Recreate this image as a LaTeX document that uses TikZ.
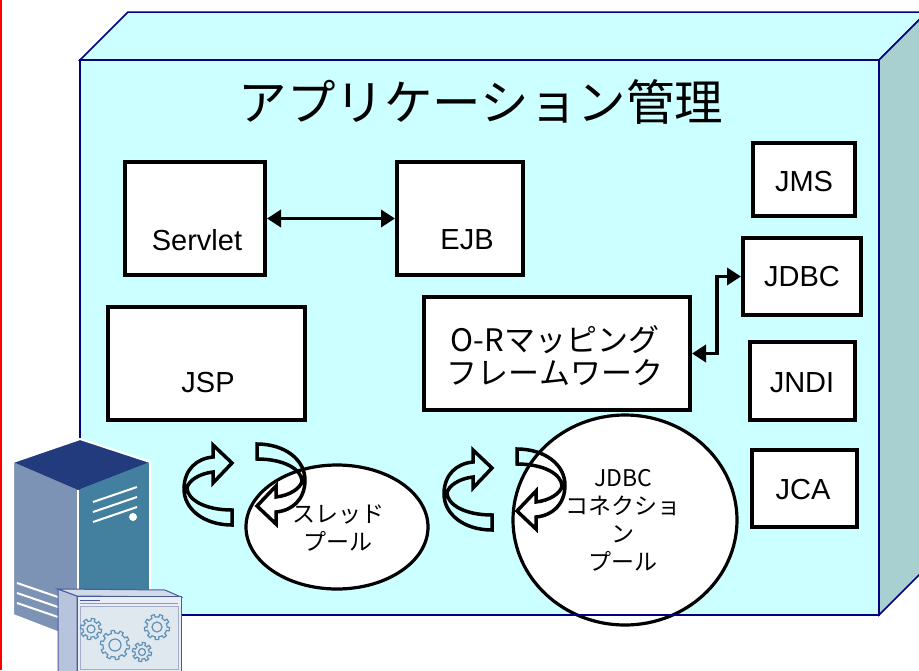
\documentclass[tikz,border=0pt]{standalone}
\usepackage{fontspec}
\setmainfont{Liberation Sans}
\newfontfamily\jp{Noto Sans CJK JP}
\usetikzlibrary{arrows.meta,shapes.geometric,calc}

\definecolor{facefill}{HTML}{CCFFFF}
\definecolor{sidefill}{HTML}{A8D0D0}
\definecolor{edgeblue}{HTML}{000080}
\definecolor{towertop}{HTML}{213B7C}
\definecolor{towerleft}{HTML}{7D93B5}
\definecolor{towerright}{HTML}{4380A0}
\definecolor{winedge}{HTML}{4A5A9A}
\definecolor{winside}{HTML}{B8C4DC}
\definecolor{wintop}{HTML}{D0DAE8}
\definecolor{winface}{HTML}{E8EEF4}
\definecolor{wincontent}{HTML}{DFE8EE}
\definecolor{gearcol}{HTML}{5F90B8}

\tikzset{
  compbox/.style={draw=black, line width=4pt, fill=white, rectangle, inner sep=0pt},
  pool/.style={draw=black, line width=3.2pt, fill=white, ellipse, inner sep=0pt},
  lbl/.style={font=\fontsize{29}{32}\selectfont, inner sep=0pt},
  jplbl/.style={font=\jp\fontsize{23}{28}\selectfont, inner sep=0pt, align=center},
  link/.style={line width=3.5pt, {Triangle[length=14pt,width=17pt]}-{Triangle[length=14pt,width=17pt]}},
  spinline/.style={draw=black, line width=3.5pt, line join=miter},
  gearline/.style={draw=gearcol, line width=1.2pt},
  spin/.pic={
    \draw[spinline] (-12.5,40.5) .. controls (-40,40.5) and (-61,25) .. (-60.5,3.5)
      .. controls (-60,-15) and (-48,-26) .. (-31.5,-27.5)
      -- (-31.5,-39.5) -- (-12.5,-21.5) -- (-31.5,-1.5) -- (-31.5,-12.5)
      .. controls (-45,-11) and (-56,-4) .. (-57.5,3.5)
      .. controls (-57,15) and (-40,25.5) .. (-12.5,25.5) -- cycle;
  },
  pics/gear/.style args={#1/#2}{code={
    \draw[gearline] plot[domain=0:360, samples=181, variable=\t]
      ({(#1+ifthenelse(sin(#2*\t)>0,2.6,0))*cos(\t)}, {(#1+ifthenelse(sin(#2*\t)>0,2.6,0))*sin(\t)}) -- cycle;
    \draw[gearline] (0,0) circle[radius=#1*0.5];
  }}
}

\begin{document}
\begin{tikzpicture}[x=1pt,y=-1pt]
\useasboundingbox (0,0) rectangle (919,670);
\clip (0,0) rectangle (919,670);
\fill[white] (0,0) rectangle (919,670);

% left margin rule
\fill[red] (0,0) rectangle (2,670);

% the container block: top, right side and front faces
\filldraw[fill=facefill, draw=edgeblue, line width=1.5pt] (80,60) -- (128,12) -- (927,12) -- (879,60) -- cycle;
\filldraw[fill=sidefill, draw=edgeblue, line width=1.5pt] (879,60) -- (927,12) -- (927,567) -- (879,615) -- cycle;
\fill[facefill] (80,60) rectangle (879,615);

% title
\node[font=\jp\fontsize{48.5}{52}\selectfont, inner sep=0pt] (title) at (481,102) {アプリケーション管理};

% components
\node[compbox, minimum width=140, minimum height=113] (servlet) at (195,218.5) {};
\node[lbl] (servlettxt) at (197,240) {Servlet};
\node[compbox, minimum width=126, minimum height=113] (ejb) at (460,218.5) {};
\node[lbl] (ejbtxt) at (467,240) {EJB};
\node[compbox, minimum width=197, minimum height=113] (jsp) at (206.5,363.5) {};
\node[lbl] (jsptxt) at (208,383) {JSP};
\node[compbox, minimum width=266, minimum height=113] (orm) at (557,353.5) {};
\node[font=\jp\fontsize{31}{33}\selectfont, inner sep=0pt, align=center] (ormtxt) at (555,356) {O-Rマッピング\\フレームワーク};

\node[compbox, minimum width=102, minimum height=73] (jms) at (804,179.5) {};
\node[lbl] (jmstxt) at (804,182) {JMS};
\node[compbox, minimum width=118, minimum height=77] (jdbc) at (802,276.5) {};
\node[lbl] (jdbctxt) at (802,277) {JDBC};
\node[compbox, minimum width=105, minimum height=78] (jndi) at (802.5,381) {};
\node[lbl] (jnditxt) at (802,383) {JNDI};
\node[compbox, minimum width=105, minimum height=77] (jca) at (804.5,488.5) {};
\node[lbl] (jcatxt) at (803,490) {JCA};

% connectors
\draw[link] (servlet.east) -- (ejb.west);
\coordinate (bend) at (717,276.5);
\draw[link] (orm.east) -| (bend) -- (jdbc.west);

% pools
\node[pool, minimum width=182, minimum height=124] (threadpool) at (337,527) {};
\node[pool, minimum width=224, minimum height=210] (connpool) at (625,520) {};

% rotating arrows around each pool
\pic at (244.5,484.5) {spin};
\pic[rotate=180] at (244.5,484.5) {spin};
\pic at (504.5,489.5) {spin};
\pic[rotate=180] at (504.5,489.5) {spin};

\node[jplbl] (threadtxt) at (338,528) {スレッド\\プール};
\node[jplbl] (conntxt) at (623,520) {JDBC\\コネクショ\\ン\\プール};

% front face outline
\draw[edgeblue, line width=1.5pt] (80,60) rectangle (879,615);

% server tower
\fill[towerleft] (13,462) -- (78,490) -- (78,640) -- (13,615) -- cycle;
\fill[towerright] (78,490) -- (150,462) -- (150,612) -- (78,640) -- cycle;
\fill[towertop] (13,462) -- (80,439) -- (150,462) -- (78,490) -- cycle;
\draw[white, line width=2pt, line join=round] (13,462) -- (80,439) -- (150,462) -- (150,612) -- (78,640) -- (13,615) -- cycle;
\draw[white, line width=1.5pt] (78,490) -- (78,640);
\foreach \dy in {0,10,20} {
  \draw[white, line width=2pt] (93,502+\dy) -- (137,487+\dy);
  \draw[white, line width=2pt] (17,583+\dy) -- (58,597+\dy);
}
\fill[white] (133,517) circle[radius=4];

% application window in front of the tower
\filldraw[fill=winside, draw=winedge, line width=1pt] (58,589) -- (77,596) -- (77,672) -- (58,672) -- cycle;
\filldraw[fill=wintop, draw=winedge, line width=1pt] (58,589) -- (165,590) -- (181,597) -- (77,596) -- cycle;
\filldraw[fill=winface, draw=winedge, line width=1pt] (77,596) rectangle (181,672);
\draw[winedge, line width=0.8pt] (80,600) -- (100,600);
\draw[winedge!60, line width=0.6pt] (80,603) -- (178,603);
\filldraw[fill=wincontent, draw=winedge!50, line width=0.8pt] (80,606) rectangle (178,669);
\pic at (91,629) {gear=8/8};
\pic at (115,645) {gear=12/10};
\pic at (142,652) {gear=7/8};
\pic at (157,627) {gear=10/9};
\end{tikzpicture}
\end{document}
